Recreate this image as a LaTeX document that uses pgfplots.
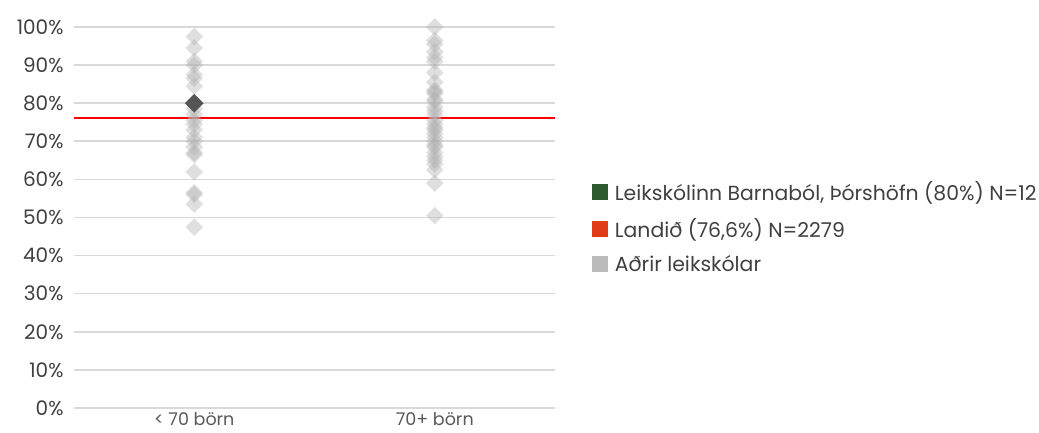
\documentclass[border=0pt]{standalone}
\usepackage{pgfplots}
\pgfplotsset{compat=1.18}
\usepackage{fontspec}
\setmainfont{Poppins}
\definecolor{gridc}{HTML}{D9D9D9}
\definecolor{tickc}{HTML}{404040}
\definecolor{xtc}{HTML}{595959}
\definecolor{ptc}{HTML}{B0B0B0}
\definecolor{darkpt}{HTML}{555555}
\definecolor{leggreen}{HTML}{2E5A2F}
\definecolor{legred}{HTML}{E03C1A}
\definecolor{leggray}{HTML}{BBBBBB}
\begin{document}
\begin{tikzpicture}
\useasboundingbox (-74pt,-25pt) rectangle (965pt,408pt);
\begin{axis}[
  at={(0pt,0pt)}, anchor=south west,
  scale only axis, width=481pt, height=381pt,
  xmin=-0.5, xmax=1.5, ymin=0, ymax=100,
  axis line style={draw=none},
  ytick={0,10,...,100},
  yticklabel={\pgfmathprintnumber{\tick}\%},
  /pgf/number format/assume math mode=true,
  xtick={0,1}, xticklabels={< 70 börn, 70+ börn},
  ymajorgrids, major grid style={gridc, line width=1.6pt},
  tick style={draw=none},
  yticklabel style={font=\fontsize{20}{20}\selectfont, text=tickc, anchor=east, xshift=-7pt},
  xticklabel style={font=\fontsize{17.5}{17.5}\selectfont, text=xtc, anchor=north, yshift=-1pt},
  clip=false,
  legend style={at={(1.07,0.475)}, anchor=west, draw=none, fill=none,
    font=\fontsize{20.4}{20.4}\selectfont, text=tickc, row sep=12.5pt,
    /tikz/every even column/.append style={column sep=3pt},
    /tikz/every odd column/.append style={column sep=6pt}},
  legend cell align=left,
]
\addlegendimage{only marks, mark=square*, mark size=7.5pt, color=leggreen}
\addlegendentry{Leikskólinn Barnaból, Þórshöfn (80\%) N=12}
\addlegendimage{only marks, mark=square*, mark size=7.5pt, color=legred}
\addlegendentry{Landið (76,6\%) N=2279}
\addlegendimage{only marks, mark=square*, mark size=7.5pt, color=leggray}
\addlegendentry{Aðrir leikskólar}
\addplot[forget plot, only marks, color=ptc, mark=square*, mark size=6.2pt,
  mark options={rotate=45, draw opacity=0, fill=ptc, fill opacity=0.4}]
  coordinates {
  (0,97.5) (0,94.5) (0,91) (0,90) (0,87.5) (0,86.5) (0,84.5) (0,78.5) (0,77)
  (0,75.5) (0,74.5) (0,73) (0,71) (0,70) (0,68.5) (0,67) (0,66.5) (0,62)
  (0,56.5) (0,56) (0,53.5) (0,47.5)
  (1,100) (1,96.5) (1,95.5) (1,93.5) (1,92) (1,91) (1,88) (1,85.5) (1,83.5)
  (1,83) (1,82.5) (1,81) (1,80.5) (1,79) (1,78) (1,77) (1,75.5) (1,74.5)
  (1,73.5) (1,73) (1,72) (1,71) (1,70) (1,69) (1,68.5) (1,67) (1,66) (1,65)
  (1,64) (1,62.5) (1,59) (1,50.5)
  };
\addplot[forget plot, red, line width=1.8pt] coordinates {(-0.5,76.2) (1.5,76.2)};
\addplot[forget plot, only marks, color=darkpt, mark=square*, mark size=6.6pt,
  mark options={rotate=45, draw opacity=0, fill=darkpt}]
  coordinates {(0,80)};
\end{axis}
\end{tikzpicture}
\end{document}
